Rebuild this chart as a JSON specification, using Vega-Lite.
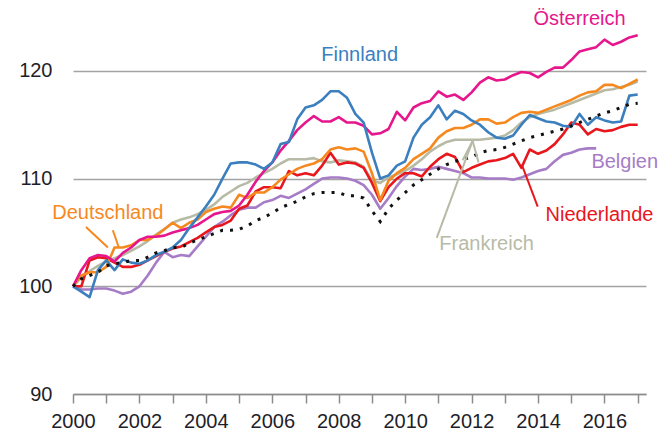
{
  "$schema": "https://vega.github.io/schema/vega-lite/v6.json",
  "width": 573,
  "height": 377,
  "autosize": "none",
  "padding": {"left": 73, "top": 17, "right": 15, "bottom": 42},
  "background": "white",
  "config": {"view": {"stroke": null}, "font": "Liberation Sans"},
  "datasets": {
    "series": [
      {"t":2000,"Frankreich":100,"Belgien":100,"Niederlande":100,"Deutschland":100,"Österreich":100,"Finnland":100,"EA":100},
      {"t":2000.25,"Frankreich":100.8,"Belgien":99.7,"Niederlande":100.0,"Deutschland":101.0,"Österreich":101.5,"Finnland":99.5,"EA":100.7},
      {"t":2000.5,"Frankreich":101.4,"Belgien":99.7,"Niederlande":102.4,"Deutschland":101.3,"Österreich":102.6,"Finnland":99.0,"EA":101.0},
      {"t":2000.75,"Frankreich":101.9,"Belgien":99.8,"Niederlande":102.7,"Deutschland":101.3,"Österreich":102.9,"Finnland":101.5,"EA":101.3},
      {"t":2001,"Frankreich":102.3,"Belgien":99.8,"Niederlande":102.6,"Deutschland":101.8,"Österreich":102.8,"Finnland":102.4,"EA":101.9},
      {"t":2001.25,"Frankreich":102.6,"Belgien":99.6,"Niederlande":102.2,"Deutschland":103.6,"Österreich":102.3,"Finnland":101.5,"EA":102.1},
      {"t":2001.5,"Frankreich":102.9,"Belgien":99.3,"Niederlande":101.8,"Deutschland":103.6,"Österreich":103.1,"Finnland":102.5,"EA":102.2},
      {"t":2001.75,"Frankreich":103.3,"Belgien":99.5,"Niederlande":101.8,"Deutschland":103.8,"Österreich":103.6,"Finnland":102.2,"EA":102.4},
      {"t":2002,"Frankreich":103.7,"Belgien":100.0,"Niederlande":102.0,"Deutschland":104.3,"Österreich":104.3,"Finnland":102.1,"EA":102.4},
      {"t":2002.25,"Frankreich":104.2,"Belgien":101.0,"Niederlande":102.4,"Deutschland":104.3,"Österreich":104.6,"Finnland":102.4,"EA":102.7},
      {"t":2002.5,"Frankreich":104.8,"Belgien":102.2,"Niederlande":102.8,"Deutschland":104.7,"Österreich":104.6,"Finnland":102.9,"EA":103.1},
      {"t":2002.75,"Frankreich":105.3,"Belgien":103.2,"Niederlande":103.2,"Deutschland":105.3,"Österreich":104.7,"Finnland":103.2,"EA":103.3},
      {"t":2003,"Frankreich":105.9,"Belgien":102.7,"Niederlande":103.5,"Deutschland":105.9,"Österreich":105.0,"Finnland":103.6,"EA":103.6},
      {"t":2003.25,"Frankreich":106.2,"Belgien":102.9,"Niederlande":103.7,"Deutschland":105.4,"Österreich":105.2,"Finnland":104.3,"EA":103.6},
      {"t":2003.5,"Frankreich":106.4,"Belgien":102.8,"Niederlande":104.1,"Deutschland":105.9,"Österreich":105.4,"Finnland":105.4,"EA":104.0},
      {"t":2003.75,"Frankreich":106.7,"Belgien":103.7,"Niederlande":104.5,"Deutschland":106.2,"Österreich":105.7,"Finnland":106.4,"EA":104.3},
      {"t":2004,"Frankreich":107.1,"Belgien":104.6,"Niederlande":105.0,"Deutschland":106.9,"Österreich":106.2,"Finnland":107.4,"EA":104.6},
      {"t":2004.25,"Frankreich":107.6,"Belgien":105.5,"Niederlande":105.5,"Deutschland":107.2,"Österreich":106.7,"Finnland":108.5,"EA":104.9},
      {"t":2004.5,"Frankreich":108.3,"Belgien":106.0,"Niederlande":105.7,"Deutschland":107.4,"Österreich":106.9,"Finnland":110.0,"EA":105.2},
      {"t":2004.75,"Frankreich":108.8,"Belgien":106.6,"Niederlande":106.1,"Deutschland":107.3,"Österreich":107.0,"Finnland":111.4,"EA":105.2},
      {"t":2005,"Frankreich":109.3,"Belgien":107.1,"Niederlande":107.2,"Deutschland":108.5,"Österreich":107.5,"Finnland":111.5,"EA":105.3},
      {"t":2005.25,"Frankreich":109.6,"Belgien":107.3,"Niederlande":107.5,"Deutschland":108.2,"Österreich":108.5,"Finnland":111.5,"EA":105.6},
      {"t":2005.5,"Frankreich":110.1,"Belgien":107.3,"Niederlande":108.8,"Deutschland":108.7,"Österreich":109.7,"Finnland":111.3,"EA":106.1},
      {"t":2005.75,"Frankreich":110.5,"Belgien":107.8,"Niederlande":109.2,"Deutschland":108.7,"Österreich":110.7,"Finnland":110.9,"EA":106.4},
      {"t":2006,"Frankreich":110.9,"Belgien":108.0,"Niederlande":109.2,"Deutschland":109.2,"Österreich":111.5,"Finnland":111.5,"EA":106.8},
      {"t":2006.25,"Frankreich":111.4,"Belgien":108.4,"Niederlande":109.1,"Deutschland":109.9,"Österreich":112.6,"Finnland":113.2,"EA":107.3},
      {"t":2006.5,"Frankreich":111.8,"Belgien":108.2,"Niederlande":110.7,"Deutschland":110.4,"Österreich":113.5,"Finnland":113.4,"EA":107.6},
      {"t":2006.75,"Frankreich":111.8,"Belgien":108.6,"Niederlande":110.3,"Deutschland":110.9,"Österreich":114.5,"Finnland":115.5,"EA":107.9},
      {"t":2007,"Frankreich":111.8,"Belgien":109.0,"Niederlande":110.5,"Deutschland":111.2,"Österreich":115.2,"Finnland":116.6,"EA":108.3},
      {"t":2007.25,"Frankreich":111.9,"Belgien":109.5,"Niederlande":110.3,"Deutschland":111.4,"Österreich":115.8,"Finnland":116.8,"EA":108.6},
      {"t":2007.5,"Frankreich":111.6,"Belgien":110.0,"Niederlande":111.2,"Deutschland":111.8,"Österreich":115.3,"Finnland":117.3,"EA":108.7},
      {"t":2007.75,"Frankreich":111.5,"Belgien":110.1,"Niederlande":112.4,"Deutschland":112.7,"Österreich":115.3,"Finnland":118.1,"EA":108.7},
      {"t":2008,"Frankreich":111.7,"Belgien":110.1,"Niederlande":111.3,"Deutschland":112.9,"Österreich":115.7,"Finnland":118.1,"EA":108.7},
      {"t":2008.25,"Frankreich":111.6,"Belgien":110.0,"Niederlande":111.5,"Deutschland":112.7,"Österreich":115.2,"Finnland":117.5,"EA":108.4},
      {"t":2008.5,"Frankreich":111.5,"Belgien":109.8,"Niederlande":111.4,"Deutschland":112.8,"Österreich":115.2,"Finnland":116.0,"EA":108.4},
      {"t":2008.75,"Frankreich":111.1,"Belgien":109.4,"Niederlande":111.0,"Deutschland":112.5,"Österreich":114.9,"Finnland":115.2,"EA":108.2},
      {"t":2009,"Frankreich":109.8,"Belgien":108.5,"Niederlande":109.6,"Deutschland":110.5,"Österreich":114.1,"Finnland":112.4,"EA":107.0},
      {"t":2009.25,"Frankreich":109.6,"Belgien":107.2,"Niederlande":107.9,"Deutschland":108.0,"Österreich":114.2,"Finnland":110.0,"EA":106.0},
      {"t":2009.5,"Frankreich":110.1,"Belgien":108.2,"Niederlande":109.2,"Deutschland":109.8,"Österreich":114.6,"Finnland":110.3,"EA":107.2},
      {"t":2009.75,"Frankreich":110.4,"Belgien":109.3,"Niederlande":110.0,"Deutschland":110.5,"Österreich":116.2,"Finnland":111.2,"EA":108.0},
      {"t":2010,"Frankreich":110.7,"Belgien":110.2,"Niederlande":110.5,"Deutschland":111.0,"Österreich":115.4,"Finnland":111.6,"EA":108.7},
      {"t":2010.25,"Frankreich":111.2,"Belgien":110.9,"Niederlande":110.5,"Deutschland":111.8,"Österreich":116.6,"Finnland":113.8,"EA":109.4},
      {"t":2010.5,"Frankreich":111.8,"Belgien":110.8,"Niederlande":110.2,"Deutschland":112.3,"Österreich":117.0,"Finnland":115.0,"EA":109.9},
      {"t":2010.75,"Frankreich":112.5,"Belgien":110.9,"Niederlande":111.1,"Deutschland":112.8,"Österreich":117.2,"Finnland":115.7,"EA":110.4},
      {"t":2011,"Frankreich":113.0,"Belgien":111.1,"Niederlande":111.8,"Deutschland":113.8,"Österreich":118.1,"Finnland":116.8,"EA":110.9},
      {"t":2011.25,"Frankreich":113.4,"Belgien":110.9,"Niederlande":112.3,"Deutschland":114.4,"Österreich":117.6,"Finnland":115.5,"EA":111.3},
      {"t":2011.5,"Frankreich":113.6,"Belgien":110.7,"Niederlande":112.0,"Deutschland":114.7,"Österreich":117.8,"Finnland":116.3,"EA":111.6},
      {"t":2011.75,"Frankreich":113.6,"Belgien":110.5,"Niederlande":110.6,"Deutschland":114.7,"Österreich":117.3,"Finnland":116.0,"EA":111.8},
      {"t":2012,"Frankreich":113.6,"Belgien":110.1,"Niederlande":111.0,"Deutschland":115.0,"Österreich":118.0,"Finnland":115.4,"EA":112.0},
      {"t":2012.25,"Frankreich":113.6,"Belgien":110.1,"Niederlande":111.3,"Deutschland":115.5,"Österreich":118.9,"Finnland":115.0,"EA":112.4},
      {"t":2012.5,"Frankreich":113.7,"Belgien":110.0,"Niederlande":111.6,"Deutschland":115.5,"Österreich":119.4,"Finnland":114.3,"EA":112.6},
      {"t":2012.75,"Frankreich":113.8,"Belgien":110.0,"Niederlande":111.7,"Deutschland":115.1,"Österreich":119.1,"Finnland":113.8,"EA":112.7},
      {"t":2013,"Frankreich":114.0,"Belgien":110.0,"Niederlande":111.9,"Deutschland":115.2,"Österreich":119.2,"Finnland":113.7,"EA":112.9},
      {"t":2013.25,"Frankreich":114.5,"Belgien":109.9,"Niederlande":112.3,"Deutschland":115.7,"Österreich":119.6,"Finnland":114.0,"EA":113.2},
      {"t":2013.5,"Frankreich":115.2,"Belgien":110.1,"Niederlande":111.0,"Deutschland":116.1,"Österreich":119.9,"Finnland":115.0,"EA":113.5},
      {"t":2013.75,"Frankreich":115.7,"Belgien":110.4,"Niederlande":112.7,"Deutschland":116.2,"Österreich":119.8,"Finnland":115.9,"EA":113.8},
      {"t":2014,"Frankreich":116.0,"Belgien":110.7,"Niederlande":112.3,"Deutschland":116.1,"Österreich":119.4,"Finnland":115.6,"EA":114.0},
      {"t":2014.25,"Frankreich":116.2,"Belgien":110.9,"Niederlande":112.6,"Deutschland":116.4,"Österreich":119.9,"Finnland":115.3,"EA":114.2},
      {"t":2014.5,"Frankreich":116.4,"Belgien":111.6,"Niederlande":113.2,"Deutschland":116.7,"Österreich":120.3,"Finnland":115.2,"EA":114.4},
      {"t":2014.75,"Frankreich":116.7,"Belgien":112.2,"Niederlande":114.1,"Deutschland":117.0,"Österreich":120.3,"Finnland":114.9,"EA":114.6},
      {"t":2015,"Frankreich":117.0,"Belgien":112.4,"Niederlande":115.2,"Deutschland":117.3,"Österreich":121.0,"Finnland":114.8,"EA":114.9},
      {"t":2015.25,"Frankreich":117.3,"Belgien":112.7,"Niederlande":115.0,"Deutschland":117.7,"Österreich":121.8,"Finnland":116.0,"EA":115.2},
      {"t":2015.5,"Frankreich":117.6,"Belgien":112.8,"Niederlande":114.1,"Deutschland":118.0,"Österreich":122.0,"Finnland":115.0,"EA":115.5},
      {"t":2015.75,"Frankreich":117.9,"Belgien":112.8,"Niederlande":114.6,"Deutschland":118.1,"Österreich":122.2,"Finnland":115.7,"EA":115.8},
      {"t":2016,"Frankreich":118.2,"Belgien":null,"Niederlande":114.4,"Deutschland":118.7,"Österreich":122.9,"Finnland":115.4,"EA":116.1},
      {"t":2016.25,"Frankreich":118.3,"Belgien":null,"Niederlande":114.5,"Deutschland":118.7,"Österreich":122.4,"Finnland":115.2,"EA":116.3},
      {"t":2016.5,"Frankreich":118.5,"Belgien":null,"Niederlande":114.8,"Deutschland":118.4,"Österreich":122.7,"Finnland":115.3,"EA":116.6},
      {"t":2016.75,"Frankreich":118.7,"Belgien":null,"Niederlande":115.0,"Deutschland":118.8,"Österreich":123.1,"Finnland":117.7,"EA":116.9},
      {"t":2017,"Frankreich":119.0,"Belgien":null,"Niederlande":115.0,"Deutschland":119.2,"Österreich":123.3,"Finnland":117.8,"EA":117.0}
    ],
    "labels": [
      {"t":2015.25,"v":124.8,"land":"Österreich"},
      {"t":2008.63,"v":121.5,"land":"Finnland"},
      {"t":2001.05,"v":106.8,"land":"Deutschland"},
      {"t":2016.61,"v":111.5,"land":"Belgien"},
      {"t":2015.85,"v":106.6,"land":"Niederlande"},
      {"t":2012.45,"v":103.9,"land":"Frankreich"}
    ],
    "leaders": [
      {"t":2000.39,"v":105.5,"t2":2001.05,"v2":103.6,"land":"Deutschland"},
      {"t":2001.2,"v":105.2,"t2":2001.38,"v2":103.6,"land":"Deutschland"},
      {"t":2010.95,"v":104.5,"t2":2012.03,"v2":113.5,"land":"Frankreich"},
      {"t":2011.73,"v":111.7,"t2":2012.03,"v2":113.5,"land":"Frankreich"},
      {"t":2012.21,"v":111.5,"t2":2012.03,"v2":113.5,"land":"Frankreich"},
      {"t":2013.99,"v":107.4,"t2":2013.51,"v2":111.3,"land":"Niederlande"}
    ]
  },
  "encoding": {
    "x": {
      "field": "t", "type": "quantitative",
      "scale": {"domain": [2000, 2017.25], "nice": false, "zero": false},
      "axis": {
        "title": null, "grid": false,
        "values": [2000,2001,2002,2003,2004,2005,2006,2007,2008,2009,2010,2011,2012,2013,2014,2015,2016,2017],
        "labelExpr": "datum.value % 2 == 0 ? format(datum.value, 'd') : ''",
        "domainColor": "#8c8c8c", "domainWidth": 1.5,
        "tickColor": "#8c8c8c", "tickWidth": 1.5, "tickSize": 9,
        "labelFontSize": 20, "labelColor": "#1e1e2a", "labelPadding": 8,
        "labelFont": "Liberation Sans", "labelOverlap": false, "labelFlush": false
      }
    },
    "y": {
      "field": "v", "type": "quantitative",
      "scale": {"domain": [90, 125], "nice": false, "zero": false},
      "axis": {
        "title": null, "values": [90, 100, 110, 120], "grid": true,
        "gridColor": "#a3a3a3", "gridWidth": 1.5,
        "domain": false, "ticks": false,
        "labelFontSize": 20, "labelColor": "#1e1e2a", "labelPadding": 21,
        "labelFont": "Liberation Sans"
      }
    }
  },
  "layer": [
    {
      "data": {"name": "series"},
      "transform": [
        {"fold": ["Frankreich","Belgien","Niederlande","Deutschland","Österreich","Finnland"], "as": ["land","v"]}
      ],
      "mark": {"type": "line", "strokeWidth": 2.6, "strokeJoin": "round"},
      "encoding": {
        "color": {
          "field": "land", "type": "nominal", "legend": null,
          "scale": {
            "domain": ["Frankreich","Belgien","Niederlande","Deutschland","Österreich","Finnland"],
            "range": ["#b7bba6","#a67cc6","#e8161d","#f5891f","#e6168d","#3b7fbf"]
          }
        }
      }
    },
    {
      "data": {"name": "series"},
      "transform": [
        {"fold": ["EA"], "as": ["land","v"]}
      ],
      "mark": {"type": "line", "strokeWidth": 3, "strokeDash": [3, 7], "color": "#111111"},
      "encoding": {}
    },
    {
      "data": {"name": "leaders"},
      "mark": {"type": "rule", "strokeWidth": 2},
      "encoding": {
        "x2": {"field": "t2"},
        "y2": {"field": "v2"},
        "color": {"field": "land", "type": "nominal", "legend": null}
      }
    },
    {
      "data": {"name": "labels"},
      "mark": {"type": "text", "fontSize": 20, "font": "Liberation Sans", "align": "center", "baseline": "middle"},
      "encoding": {
        "text": {"field": "land"},
        "color": {"field": "land", "type": "nominal", "legend": null}
      }
    }
  ]
}
